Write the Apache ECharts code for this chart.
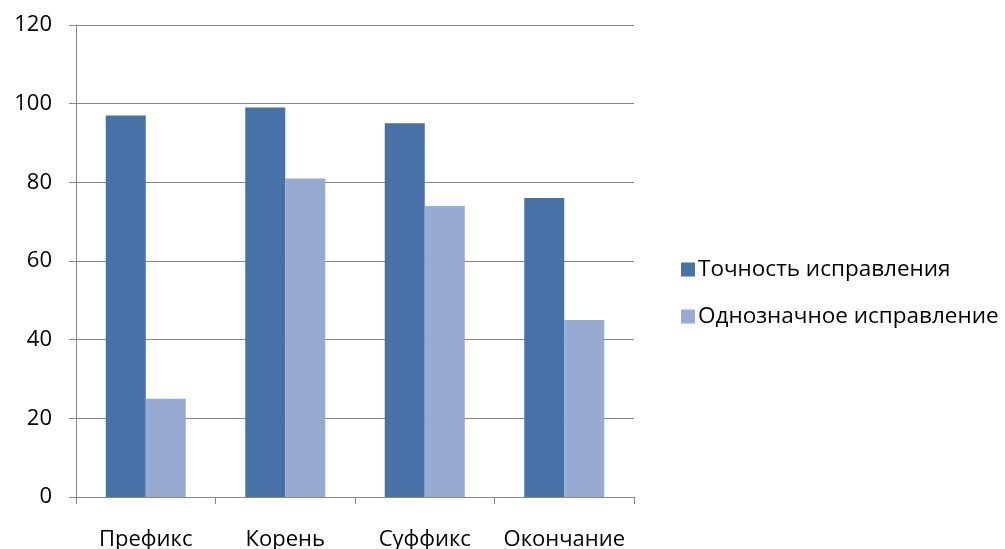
<!DOCTYPE html>
<html>
<head>
<meta charset="utf-8">
<script src="https://cdn.jsdelivr.net/npm/echarts@6/dist/echarts.min.js"></script>
<style>
  html, body { margin: 0; padding: 0; background: #fff; }
  #chart { width: 1005px; height: 549px; }
</style>
</head>
<body>
<div id="chart"></div>
<script>
// данные
var categories = ['Префикс', 'Корень', 'Суффикс', 'Окончание']
var seriesNames = ['Точность исправления', 'Однозначное исправление']
var accuracy = [97, 99, 95, 76]
var unique = [25, 81, 74, 45]

var chart = echarts.init(document.getElementById('chart'))
var font = '"Open Sans", "Noto Sans", sans-serif'

chart.setOption({
  animation: false,
  textStyle: { fontFamily: font },
  grid: { left: 76, right: 371, top: 25, bottom: 52, containLabel: false, outerBoundsMode: 'none' },
  legend: {
    orient: 'vertical',
    left: 676,
    top: 253,
    itemWidth: 14,
    itemHeight: 14,
    itemGap: 24,
    icon: 'rect',
    textStyle: { fontSize: 22.5, color: '#000', fontFamily: font, padding: [0, 0, 0, -2] },
    data: seriesNames
  },
  xAxis: {
    type: 'category',
    data: categories,
    axisLine: { lineStyle: { color: '#888', width: 1 } },
    axisTick: { show: true, length: 7, lineStyle: { color: '#888' } },
    axisLabel: { interval: 0, fontSize: 22, color: '#000', margin: 32, fontFamily: font }
  },
  yAxis: {
    type: 'value',
    min: 0,
    max: 120,
    interval: 20,
    axisLine: { show: true, lineStyle: { color: '#888', width: 1 } },
    axisTick: { show: true, length: 7, lineStyle: { color: '#888' } },
    axisLabel: { fontSize: 22, color: '#000', margin: 24, fontFamily: font },
    splitLine: { lineStyle: { color: '#888', width: 1 } }
  },
  series: [
    {
      name: seriesNames[0],
      type: 'bar',
      data: accuracy,
      barWidth: 40,
      barGap: '0%',
      itemStyle: { color: '#4672A8' }
    },
    {
      name: seriesNames[1],
      type: 'bar',
      data: unique,
      barWidth: 40,
      itemStyle: { color: '#96AAD2' }
    }
  ]
})
</script>
</body>
</html>
